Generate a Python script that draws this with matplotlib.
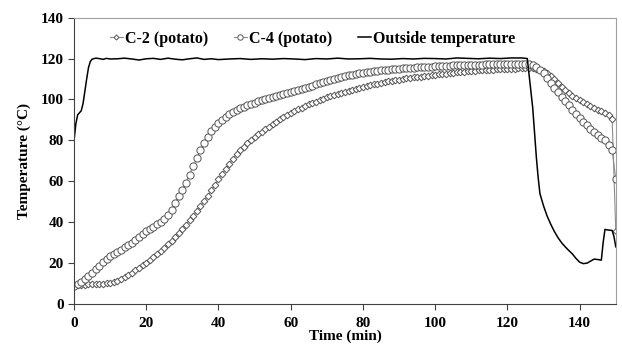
import numpy as np
import matplotlib
matplotlib.use("Agg")
import matplotlib.pyplot as plt

plt.rcParams["font.family"] = ["Liberation Serif", "DejaVu Serif"]
plt.rcParams["font.weight"] = "bold"

# time axis for the probe readings (1 min steps)
t_probe = list(range(0, 151))

c2 = [8.8, 9.2, 9.4, 9.5, 9.6, 9.7, 9.8, 9.9, 10.0, 10.2,
      10.5, 10.9, 11.4, 12.2, 13.2, 14.3, 15.4, 16.5, 17.7, 19.0,
      20.3, 21.6, 23.0, 24.4, 25.9, 27.5, 29.2, 31.0, 32.8, 34.7,
      36.7, 38.8, 41.0, 43.2, 45.5, 47.9, 50.5, 53.0, 55.6, 58.3,
      61.0, 63.6, 66.1, 68.6, 71.0, 73.2, 75.2, 77.0, 78.7, 80.2,
      81.6, 82.9, 84.2, 85.5, 86.8, 88.0, 89.2, 90.3, 91.4, 92.4,
      93.4, 94.3, 95.2, 96.0, 96.8, 97.6, 98.3, 99.0, 99.7, 100.4,
      101.0, 101.6, 102.2, 102.8, 103.3, 103.8, 104.3, 104.8, 105.3, 105.8,
      106.2, 106.6, 107.0, 107.4, 107.7, 108.1, 108.4, 108.8, 109.1, 109.4,
      109.7, 110.0, 110.3, 110.5, 110.8, 111.0, 111.2, 111.4, 111.7, 111.9,
      112.1, 112.3, 112.5, 112.7, 112.9, 113.1, 113.3, 113.4, 113.6, 113.7,
      113.9, 114.0, 114.2, 114.3, 114.4, 114.5, 114.6, 114.7, 114.8, 114.9,
      115.0, 115.1, 115.1, 115.2, 115.2, 115.3, 115.2, 115.2, 115.0, 114.6,
      113.8, 112.9, 111.5, 110.0, 108.0, 106.2, 104.6, 103.2, 101.9, 100.8,
      99.7, 98.7, 97.8, 96.9, 96.0, 95.1, 94.2, 93.3, 92.4, 90.3,
      35.6]

c4 = [8.8, 9.8, 11.0, 12.3, 13.7, 15.3, 17.0, 18.8, 20.8, 22.2,
      23.4, 24.5, 25.6, 26.6, 27.7, 28.8, 30.1, 31.4, 32.8, 34.2,
      35.6, 36.8, 37.9, 39.0, 40.2, 41.6, 43.4, 46.0, 49.3, 52.8,
      56.0, 59.4, 63.3, 67.3, 71.3, 75.3, 78.8, 81.9, 84.5, 86.8,
      88.6, 90.2, 91.6, 92.8, 93.9, 94.8, 95.7, 96.5, 97.2, 97.9,
      98.5, 99.1, 99.6, 100.1, 100.6, 101.1, 101.6, 102.1, 102.6, 103.1,
      103.6, 104.1, 104.6, 105.1, 105.6, 106.2, 106.8, 107.4, 108.0, 108.6,
      109.2, 109.7, 110.2, 110.7, 111.1, 111.5, 111.9, 112.2, 112.5, 112.8,
      113.1, 113.4, 113.6, 113.8, 114.0, 114.2, 114.4, 114.6, 114.8, 115.0,
      115.1, 115.3, 115.4, 115.5, 115.6, 115.7, 115.8, 115.9, 116.0, 116.1,
      116.2, 116.3, 116.4, 116.5, 116.6, 116.7, 116.7, 116.8, 116.9, 116.9,
      117.0, 117.0, 117.1, 117.1, 117.2, 117.2, 117.3, 117.3, 117.3, 117.4,
      117.4, 117.4, 117.5, 117.5, 117.5, 117.5, 117.3, 116.8, 116.0, 114.5,
      112.8, 110.5, 108.0, 105.6, 103.5, 101.3, 99.2, 97.2, 95.0, 93.0,
      91.0, 89.2, 87.4, 85.7, 84.0, 82.5, 81.3, 80.0, 78.0, 75.2,
      61.0]

t_out = [0, 0.5, 1, 1.5, 2, 2.5, 3, 3.5, 4, 4.5, 5, 6, 7, 8, 9, 10,
         12, 14, 16, 18, 20, 22, 24, 26, 28, 30, 32, 34, 36, 38, 40,
         43, 46, 49, 52, 55, 58, 61, 64, 67, 70, 73, 76, 79, 82, 85,
         88, 91, 94, 97, 100, 103, 106, 109, 112, 115, 118, 121, 124, 125.5,
         126, 126.5, 127, 127.5, 128, 128.5, 129, 130, 131, 132, 133, 134, 135,
         136, 137, 138, 139, 140, 141, 142, 143, 144, 145, 146, 146.5, 147,
         148, 149, 149.5, 150]
out = [80, 88, 92.5, 93.5, 94.5, 98, 104, 110, 115.5, 118.5, 119.7, 120.2, 120.0, 119.6, 120.1, 119.8,
       119.9, 120.2, 119.8, 119.3, 119.9, 120.1, 119.6, 120.2, 119.7, 119.4, 119.9, 120.3, 119.6, 119.9, 119.5,
       119.8, 120.0, 119.6, 119.9, 119.7, 120.0, 119.8, 119.5, 120.0, 119.8, 120.2, 119.8, 119.9, 120.1, 119.8,
       119.7, 120.0, 119.8, 120.1, 120.0, 119.8, 120.3, 120.1, 119.9, 120.2, 120.0, 120.3, 120.3, 120.0,
       112, 104, 96, 84, 72, 62, 54, 48, 43, 39, 35.5, 32.5, 30,
       28, 26.2, 24.5, 22.3, 20.5, 19.8, 20.0, 21.0, 22.0, 21.8, 21.5, 30, 36.5,
       36.2, 36, 33, 28]

fig, ax = plt.subplots(figsize=(6.22, 3.46), dpi=100)
fig.subplots_adjust(left=0.119, right=0.990, bottom=0.121, top=0.949)

ax.plot(t_probe, c2, "-", color="#8c8c8c", lw=0.8, marker="D", ms=3.4,
        mfc="white", mec="#555555", mew=0.7, label="C-2 (potato)")
ax.plot(t_probe, c4, "-", color="#8c8c8c", lw=0.8, marker="o", ms=5.2,
        mfc="white", mec="#555555", mew=0.7, label="C-4 (potato)")
ax.plot(t_out, out, "-", color="black", lw=1.1, label="Outside temperature")

ax.set_xlim(0, 150)
ax.set_ylim(0, 140)
ax.set_xticks(range(0, 141, 20))
ax.set_yticks(range(0, 141, 20))
ax.tick_params(axis="both", direction="out", length=4, width=0.8, colors="#404040",
               labelsize=11, labelcolor="black")
ax.tick_params(axis="x", pad=5)
for lb in ax.get_xticklabels() + ax.get_yticklabels():
    lb.set_fontweight("bold")
ax.spines["left"].set_color("#404040")
ax.spines["bottom"].set_color("#404040")
ax.spines["top"].set_color("#a0a0a0")
ax.spines["right"].set_color("#a0a0a0")
for s in ax.spines.values():
    s.set_linewidth(0.8)

ax.set_xlabel("Time (min)", fontsize=11, fontweight="bold", labelpad=0)
ax.set_ylabel("Temperature (°C)", fontsize=11, fontweight="bold", labelpad=7)

leg = ax.legend(loc="upper center", bbox_to_anchor=(0.44, 1.005), ncol=3, frameon=False,
                handlelength=0.85, handletextpad=0.1, columnspacing=1.6,
                prop={"weight": "bold", "size": 11.5}, markerscale=0.75)

fig.savefig("out.png", dpi=100)
